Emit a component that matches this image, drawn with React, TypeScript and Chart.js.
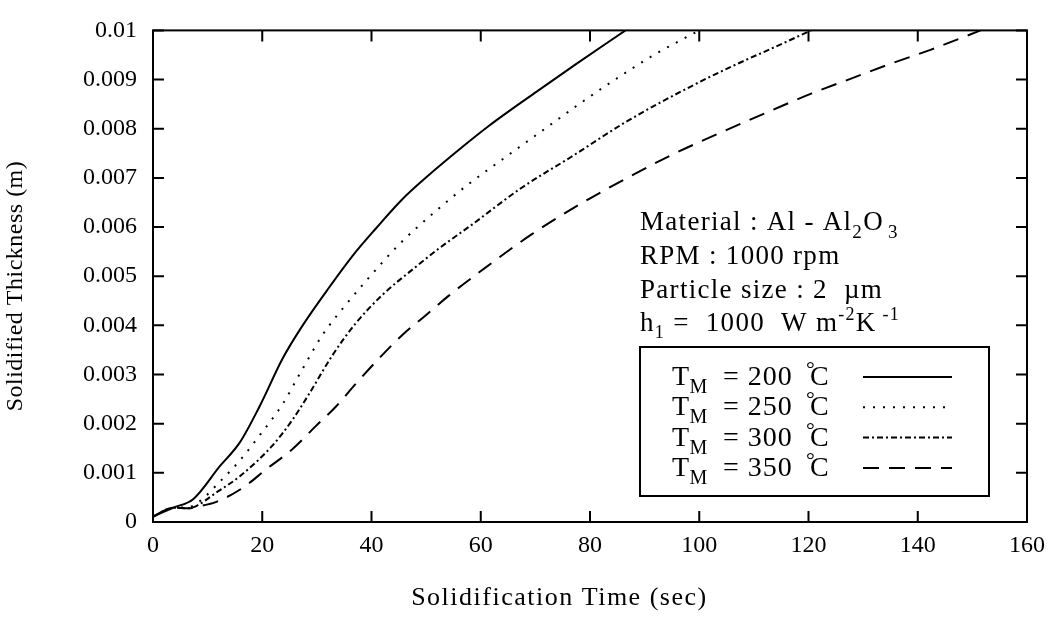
import React, { useEffect, useRef } from 'react';
import { Chart, registerables } from 'chart.js';

Chart.register(...registerables);

// ---- data (time in s, thickness in m) ----
const t200 = [0, 3.7, 7.4, 12.2, 15.9, 19.5, 23.8, 27.4, 32.3, 36.5, 40.8, 45.6, 49.6, 55, 61.4, 70.3, 77.5, 86.5];
const v200 = [0.00011, 0.00029, 0.00047, 0.00113, 0.00162, 0.00235, 0.00334, 0.0040, 0.00478, 0.00541, 0.00597, 0.00656, 0.00697, 0.00748, 0.00805, 0.00876, 0.00932, 0.0100];

const t250 = [0, 3.7, 6.5, 8.3, 12.5, 15.9, 19.5, 23.8, 26.8, 31, 35.3, 39.6, 45, 51.5, 57.5, 64.5, 71.5, 78, 85, 92, 100];
const v250 = [0.00011, 0.00029, 0.0003, 0.0004, 0.00085, 0.00125, 0.00176, 0.00241, 0.0030, 0.0038, 0.00442, 0.00498, 0.00564, 0.0063, 0.00685, 0.00742, 0.00798, 0.0085, 0.00903, 0.00952, 0.0100];

const t300 = [0, 3.7, 6.5, 8, 11.6, 15.9, 21.9, 25.6, 28.6, 32.9, 37.1, 42, 48, 52.3, 58.4, 67.5, 76.6, 86.9, 99, 106.2, 113.4, 120.5];
const v300 = [0.00011, 0.00029, 0.00028, 0.00033, 0.0006, 0.00093, 0.00156, 0.00209, 0.00261, 0.0034, 0.00404, 0.00462, 0.00518, 0.00556, 0.00605, 0.0068, 0.00743, 0.00816, 0.00889, 0.00928, 0.00964, 0.0100];

const t350 = [0, 3.7, 6.5, 8, 11.6, 16.5, 20.7, 25.6, 29.8, 33.5, 37.1, 42, 45.6, 49.9, 54.1, 60.2, 69.3, 78.4, 87.5, 95, 104.5, 113.4, 120.6, 127.8, 135, 142.2, 151.5];
const v350 = [0.00011, 0.00029, 0.00028, 0.00031, 0.00041, 0.0007, 0.00107, 0.00149, 0.00195, 0.00235, 0.00281, 0.0034, 0.0038, 0.0042, 0.0046, 0.00512, 0.00585, 0.00648, 0.00704, 0.00747, 0.00795, 0.00838, 0.00872, 0.00902, 0.00932, 0.0096, 0.0100];

const seriesTemps = ['200', '250', '300', '350'];
const seriesDashes: number[][] = [[], [2, 8], [6, 3, 2, 3], [16, 10]];

const xTickValues = [0, 20, 40, 60, 80, 100, 120, 140, 160];
const yTickValues = [0, 0.001, 0.002, 0.003, 0.004, 0.005, 0.006, 0.007, 0.008, 0.009, 0.01];

const xTitle = 'Solidification Time (sec)';
const yTitle = 'Solidified Thickness (m)';

const FONT = '"Liberation Serif", "Times New Roman", serif';

type Run = { text: string; size: number; dy?: number; dx?: number };

function drawRuns(ctx: CanvasRenderingContext2D, x: number, y: number, runs: Run[], spacing: number) {
  let cx = x;
  for (const r of runs) {
    cx += r.dx || 0;
    ctx.font = `${r.size}px ${FONT}`;
    (ctx as any).letterSpacing = `${spacing}px`;
    ctx.fillText(r.text, cx, y + (r.dy || 0));
    cx += ctx.measureText(r.text).width;
  }
  return cx;
}

const decorPlugin = {
  id: 'decor',
  afterDraw(chart: any) {
    const { ctx, chartArea } = chart;
    const { left, right, top, bottom } = chartArea;
    const xs = chart.scales.x;
    const ys = chart.scales.y;
    ctx.save();
    ctx.strokeStyle = '#000';
    ctx.fillStyle = '#000';
    ctx.lineWidth = 2;
    ctx.setLineDash([]);
    // frame
    ctx.strokeRect(left, top, right - left, bottom - top);
    // inward ticks
    const tl = 11;
    ctx.beginPath();
    for (const v of xTickValues) {
      const px = xs.getPixelForValue(v);
      ctx.moveTo(px, bottom); ctx.lineTo(px, bottom - tl);
      ctx.moveTo(px, top); ctx.lineTo(px, top + tl);
    }
    for (const v of yTickValues) {
      const py = ys.getPixelForValue(v);
      ctx.moveTo(left, py); ctx.lineTo(left + tl, py);
      ctx.moveTo(right, py); ctx.lineTo(right - tl, py);
    }
    ctx.stroke();

    // axis titles
    ctx.textBaseline = 'middle';
    ctx.textAlign = 'center';
    ctx.font = `26px ${FONT}`;
    (ctx as any).letterSpacing = '1.5px';
    ctx.fillText(xTitle, left + (right - left) * 0.465, bottom + 76);
    ctx.save();
    ctx.translate(16, top + (bottom - top) * 0.52);
    ctx.rotate(-Math.PI / 2);
    ctx.font = `24px ${FONT}`;
    (ctx as any).letterSpacing = '0.5px';
    ctx.fillText(yTitle, 0, 0);
    ctx.restore();

    // annotation text
    ctx.textAlign = 'left';
    ctx.textBaseline = 'alphabetic';
    const ax = 640;
    const sp = 1.3;
    drawRuns(ctx, ax, 230, [
      { text: 'Material : Al - Al', size: 27 },
      { text: '2', size: 19, dy: 8 },
      { text: 'O', size: 27 },
      { text: '3', size: 19, dy: 8, dx: 4 },
    ], sp);
    drawRuns(ctx, ax, 264, [{ text: 'RPM : 1000 rpm', size: 27 }], sp);
    drawRuns(ctx, ax, 298, [{ text: 'Particle size : 2  \u00b5m', size: 27 }], sp);
    drawRuns(ctx, ax, 331, [
      { text: 'h', size: 27 },
      { text: '1', size: 18, dy: 7 },
      { text: ' =  1000  W m', size: 27 },
      { text: '-2', size: 18, dy: -11 },
      { text: 'K', size: 27 },
      { text: ' -1', size: 18, dy: -11 },
    ], sp);

    // legend box
    const bx = 640, by = 347, bw = 349, bh = 149;
    ctx.lineWidth = 2;
    ctx.setLineDash([]);
    ctx.strokeRect(bx, by, bw, bh);
    chart.data.datasets.forEach((ds: any, i: number) => {
      const base = by + 38 + i * 30.3;
      ctx.setLineDash([]);
      drawRuns(ctx, bx + 32, base, [
        { text: 'T', size: 28 },
        { text: 'M', size: 20, dy: 8 },
      ], 0.5);
      drawRuns(ctx, bx + 83, base, [{ text: '= ' + seriesTemps[i], size: 28 }], 1);
      drawRuns(ctx, bx + 166, base - 9, [{ text: '\u00b0', size: 22 }], 0);
      drawRuns(ctx, bx + 170, base, [{ text: 'C', size: 28 }], 0);
      ctx.beginPath();
      ctx.lineWidth = ds.borderWidth;
      ctx.setLineDash(ds.borderDash || []);
      ctx.moveTo(bx + 223, base - 8);
      ctx.lineTo(bx + 312, base - 8);
      ctx.stroke();
    });
    ctx.restore();
  },
};

function toPoints(ts: number[], vs: number[]) {
  return ts.map((t, i) => ({ x: t, y: vs[i] }));
}

export default function App() {
  const canvasRef = useRef<HTMLCanvasElement | null>(null);

  useEffect(() => {
    const canvas = canvasRef.current;
    if (!canvas) return;
    const seriesT = [t200, t250, t300, t350];
    const seriesV = [v200, v250, v300, v350];
    const chart = new Chart(canvas, {
      type: 'line',
      data: {
        datasets: seriesTemps.map((temp, i) => ({
          label: `T_M = ${temp} \u00b0C`,
          data: toPoints(seriesT[i], seriesV[i]),
          borderColor: '#000',
          backgroundColor: '#000',
          borderWidth: 2,
          borderDash: seriesDashes[i],
          pointRadius: 0,
          fill: false,
          cubicInterpolationMode: 'monotone' as const,
        })),
      },
      options: {
        responsive: false,
        maintainAspectRatio: false,
        animation: false,
        devicePixelRatio: 1,
        layout: { padding: { top: 17, right: 23, left: 0, bottom: 0 } },
        plugins: {
          legend: { display: false },
          tooltip: { enabled: false },
        },
        scales: {
          x: {
            type: 'linear',
            min: 0,
            max: 160,
            ticks: {
              stepSize: 20,
              color: '#000',
              font: { family: FONT, size: 24 },
              padding: 9,
              maxRotation: 0,
              autoSkip: false,
            },
            grid: { display: false, drawTicks: false },
            border: { display: false },
            afterFit: (s: any) => { s.height = 96; },
          },
          y: {
            type: 'linear',
            min: 0,
            max: 0.01,
            ticks: {
              stepSize: 0.001,
              color: '#000',
              font: { family: FONT, size: 24 },
              padding: 16,
              autoSkip: false,
              callback: (v: any) => String(Math.round(Number(v) * 1000) / 1000),
            },
            grid: { display: false, drawTicks: false },
            border: { display: false },
            afterFit: (s: any) => { s.width = 153; },
          },
        },
      },
      plugins: [decorPlugin],
    });
    return () => chart.destroy();
  }, []);

  return (
    <div style={{ position: 'fixed', left: 0, top: 0, width: 1054, height: 618, background: '#fff' }}>
      <canvas ref={canvasRef} width={1054} height={618} style={{ display: 'block' }} />
    </div>
  );
}
